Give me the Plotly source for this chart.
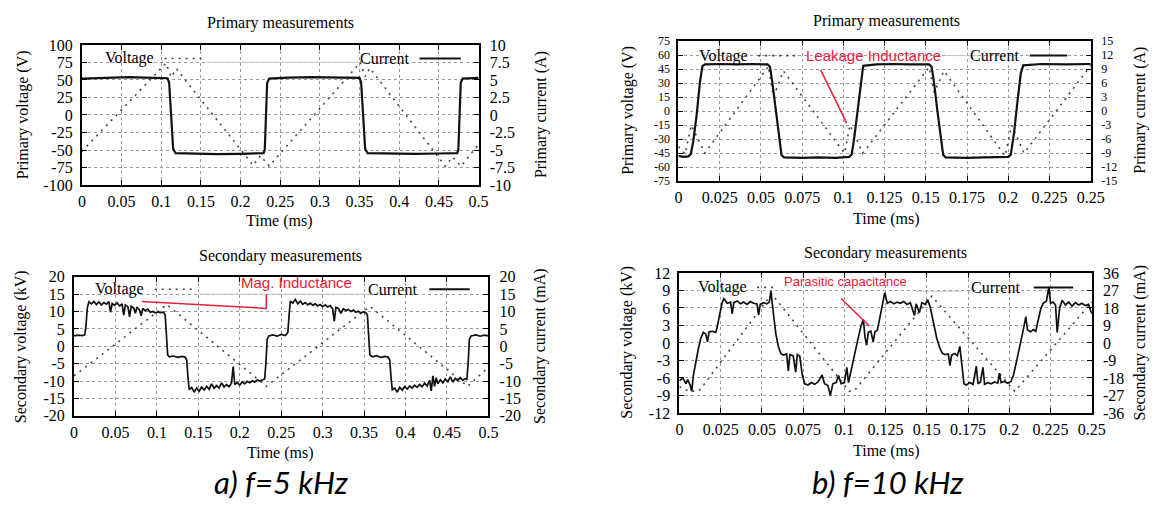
import plotly.graph_objects as go

# ---------------- DATA ----------------
# Panel a) primary, f = 5 kHz  (time in ms)
p1_volt_t = [0, 0.106, 0.1125, 0.119, 0.216, 0.225, 0.236, 0.351, 0.357, 0.363, 0.458, 0.467, 0.478, 0.5]
p1_volt_v = [-52, 74, 54, 66, -72, -58, -73, 75, 55, 67, -73, -60, -73, -42]
p1_curr_t = [0, 0.03, 0.06, 0.09, 0.108, 0.110, 0.1125, 0.115, 0.118, 0.14, 0.17, 0.2, 0.229, 0.2305, 0.232,
             0.2335, 0.236, 0.26, 0.29, 0.32, 0.350, 0.352, 0.3545, 0.357, 0.360, 0.39, 0.42, 0.45, 0.473,
             0.4745, 0.476, 0.4775, 0.480, 0.5]
p1_curr_a = [5.2, 5.35, 5.4, 5.3, 5.25, 4.6, -1.0, -4.8, -5.45, -5.55, -5.6, -5.55, -5.45, -5.0, 0.0,
             4.6, 5.2, 5.35, 5.4, 5.35, 5.3, 4.6, -1.0, -4.8, -5.45, -5.55, -5.55, -5.5, -5.45,
             -5.0, 0.0, 4.6, 5.2, 5.3]

# Panel b) primary, f = 10 kHz
p2_volt_t = [0, 0.004, 0.0078, 0.016, 0.0546, 0.0576, 0.0636, 0.1007, 0.104, 0.1118, 0.152, 0.155, 0.161,
             0.198, 0.202, 0.2095, 0.25]
p2_volt_v = [-38, -46, -15, -45, 48, 15, 43, -45, -15, -45, 47, 20, 43, -48, -15, -45, 49]
p2_curr_t = [0, 0.003, 0.006, 0.0075, 0.009, 0.011, 0.013, 0.0145, 0.016, 0.025, 0.035, 0.045, 0.054,
             0.0555, 0.057, 0.059, 0.061, 0.0625, 0.064, 0.075, 0.085, 0.095, 0.1035, 0.105, 0.1065,
             0.1085, 0.1105, 0.112, 0.12, 0.13, 0.14, 0.152, 0.1535, 0.155, 0.157, 0.159, 0.1605, 0.162,
             0.175, 0.185, 0.2, 0.2015, 0.2035, 0.2055, 0.2075, 0.209, 0.22, 0.235, 0.25]
p2_curr_a = [-9.6, -9.8, -9.7, -9.2, -6.5, -1.0, 6.0, 9.6, 10.0, 10.1, 10.0, 10.1, 10.0,
             9.5, 6.0, 0.0, -6.0, -9.4, -9.9, -10.0, -9.9, -10.0, -9.8, -9.3, -6.0,
             0.0, 6.5, 9.7, 10.0, 10.1, 10.0, 10.0, 9.5, 6.0, 0.0, -6.0, -9.4, -9.9,
             -10.0, -9.9, -9.8, -9.3, -4.5, 2.0, 8.0, 9.8, 10.1, 10.0, 10.1]

# Panel a) secondary, f = 5 kHz
p3_volt_t = [0, 0.112, 0.232, 0.357, 0.475, 0.5]
p3_volt_kv = [-8.5, 12.0, -11.5, 11.5, -11.5, -6.0]
p3_curr_t = [0, 0.005, 0.01, 0.013, 0.0145, 0.016, 0.018,
             0.021, 0.024, 0.027, 0.030, 0.033, 0.036, 0.039, 0.042, 0.044, 0.046, 0.049, 0.052, 0.055,
             0.058, 0.060, 0.062, 0.065, 0.067, 0.069, 0.072, 0.074, 0.076, 0.079, 0.081, 0.083, 0.086,
             0.089, 0.092, 0.095, 0.098, 0.101, 0.104, 0.108,
             0.110, 0.1115, 0.113, 0.115, 0.12, 0.125, 0.13, 0.134, 0.136, 0.1375, 0.139,
             0.142, 0.145, 0.148, 0.151, 0.154, 0.157, 0.160, 0.163, 0.166, 0.169, 0.172, 0.175, 0.178,
             0.181, 0.184, 0.187, 0.190, 0.192, 0.194, 0.197, 0.200, 0.203, 0.206, 0.209, 0.212, 0.215,
             0.218, 0.221, 0.224, 0.227, 0.230,
             0.2315, 0.233, 0.235, 0.24, 0.245, 0.25, 0.255, 0.258, 0.2595, 0.261,
             0.264, 0.267, 0.270, 0.273, 0.276, 0.279, 0.282, 0.285, 0.288, 0.291, 0.294, 0.297, 0.300,
             0.303, 0.306, 0.309, 0.312, 0.314, 0.316, 0.319, 0.322, 0.325, 0.328, 0.331, 0.334, 0.337,
             0.340, 0.343, 0.346, 0.349, 0.352,
             0.354, 0.3555, 0.357, 0.36, 0.365, 0.37, 0.375, 0.379, 0.381, 0.3825, 0.384,
             0.387, 0.390, 0.393, 0.396, 0.399, 0.402, 0.405, 0.408, 0.411, 0.414, 0.417, 0.420, 0.423,
             0.426, 0.429, 0.431, 0.433, 0.435, 0.437, 0.439, 0.442, 0.445, 0.448, 0.451, 0.454, 0.457,
             0.460, 0.463, 0.466, 0.469, 0.472, 0.474,
             0.4755, 0.477, 0.479, 0.485, 0.49, 0.495, 0.5]
p3_curr_ma = [3.0, 3.2, 3.1, 3.3, 6.0, 11.0, 12.8,
              12.2, 12.9, 12.0, 12.8, 11.9, 12.6, 12.1, 12.9, 9.8, 12.3, 11.8, 12.5, 11.6,
              12.2, 9.0, 11.9, 11.4, 8.5, 11.5, 11.0, 9.5, 11.3, 10.5, 8.8, 10.9, 10.2,
              10.7, 9.8, 10.0, 9.6, 9.9, 9.7, 9.8,
              9.0, 3.0, -2.5, -3.0, -2.8, -3.2, -2.9, -3.1, -4.0, -9.0, -12.5,
              -11.8, -13.2, -12.0, -12.9, -11.7, -12.6, -11.5, -12.4, -10.8, -12.1, -11.3, -12.0, -10.5,
              -11.7, -11.0, -11.6, -10.6, -5.8, -11.0, -10.4, -11.2, -10.2, -10.8, -10.1, -10.5, -9.9,
              -10.3, -9.7, -10.0, -9.6, -9.4,
              -5.0, 2.0, 3.0, 3.3, 2.9, 3.4, 3.1, 4.0, 9.0, 13.0,
              12.4, 13.5, 12.2, 13.0, 12.1, 12.6, 11.9, 12.4, 11.8, 12.2, 11.6, 12.0, 11.4,
              11.9, 11.3, 11.7, 10.8, 7.2, 11.2, 10.9, 9.5, 10.8, 10.3, 10.6, 10.0, 10.4,
              9.8, 10.1, 9.6, 9.9, 9.7,
              9.0, 3.0, -2.5, -3.0, -2.7, -3.2, -2.9, -3.1, -4.0, -9.0, -12.5,
              -12.0, -13.2, -11.8, -12.6, -11.6, -12.3, -11.4, -12.0, -11.2, -11.8, -11.0, -11.6, -10.6,
              -11.4, -9.8, -12.8, -8.5, -11.5, -9.0, -10.8, -9.6, -10.5, -9.4, -10.2, -8.8, -10.3,
              -9.2, -9.9, -9.0, -9.8, -9.3, -9.5,
              -5.0, 2.0, 3.0, 3.3, 2.9, 3.2, 3.0]

# Panel b) secondary, f = 10 kHz
p4_volt_t = [0, 0.006, 0.012, 0.056, 0.103, 0.106, 0.153, 0.2033, 0.25]
p4_volt_kv = [-7.5, -8.3, -8.2, 8.4, -8.3, -8.2, 8.0, -8.3, 7.0]
p4_curr_t = [0, 0.002, 0.004, 0.005, 0.0065, 0.0075, 0.0085, 0.010, 0.0115, 0.013,
             0.0145, 0.016, 0.017, 0.018, 0.020, 0.022, 0.023, 0.0245, 0.026, 0.027,
             0.029, 0.031, 0.032, 0.033, 0.035, 0.037, 0.039, 0.041, 0.043, 0.045,
             0.047, 0.048, 0.049, 0.051, 0.053, 0.0545, 0.0555, 0.057, 0.0585, 0.060,
             0.0615, 0.063, 0.065, 0.066, 0.067, 0.069, 0.0705, 0.0715, 0.073, 0.0745,
             0.076, 0.078, 0.080, 0.082, 0.084, 0.0865, 0.088, 0.090, 0.0915, 0.093,
             0.095, 0.0965, 0.098, 0.100, 0.1015, 0.1025, 0.1045, 0.1065, 0.1085, 0.110,
             0.1115, 0.1125, 0.1135, 0.1145, 0.116, 0.1175, 0.1185, 0.120, 0.1215, 0.123,
             0.1245, 0.126, 0.128, 0.130, 0.132, 0.134, 0.136, 0.138, 0.140, 0.1425,
             0.1435, 0.1455, 0.147, 0.149, 0.1505, 0.152, 0.153, 0.1545, 0.156, 0.158,
             0.1595, 0.161, 0.163, 0.164, 0.165, 0.167, 0.1685, 0.170, 0.1715, 0.1725,
             0.174, 0.176, 0.178, 0.180, 0.181, 0.1825, 0.184, 0.185, 0.187, 0.189,
             0.191, 0.193, 0.194, 0.195, 0.197, 0.199, 0.201, 0.2025, 0.2045, 0.2065,
             0.208, 0.209, 0.210, 0.211, 0.213, 0.2145, 0.216, 0.2175, 0.219, 0.2205,
             0.2225, 0.224, 0.225, 0.2265, 0.228, 0.229, 0.2305, 0.232, 0.234, 0.236,
             0.238, 0.240, 0.242, 0.244, 0.246, 0.248, 0.25]
p4_curr_ma = [-19.5, -18.0, -21.0, -18.9, -21.6, -24.9, -16.5, -9.0, -3.0, 2.4,
              5.4, 4.5, 0.6, 5.7, 6.0, 5.4, 8.4, 15.0, 21.0, 22.8,
              20.4, 21.0, 15.0, 20.7, 21.6, 20.1, 21.0, 19.8, 21.3, 20.4,
              20.1, 14.4, 19.8, 20.7, 20.1, 21.0, 26.7, 15.0, 4.5, -1.8,
              -5.4, -6.3, -5.7, -14.4, -6.0, -6.6, -15.0, -6.0, -6.9, -16.5,
              -21.0, -21.6, -20.4, -21.3, -20.1, -16.5, -21.0, -21.9, -27.0, -21.0,
              -20.4, -16.8, -21.0, -20.4, -12.6, -20.4, -12.0, -4.5, 3.0, 8.4,
              12.0, 3.0, -1.2, 5.4, 6.0, 0.6, 5.7, 6.6, 13.5, 20.4,
              25.8, 20.4, 21.3, 20.1, 21.0, 20.4, 21.3, 19.8, 20.7, 14.1,
              20.1, 15.6, 20.7, 19.8, 22.2, 18.6, 14.1, 7.5, 2.4, -3.0,
              -5.4, -6.0, -5.7, -11.7, -6.3, -5.4, -6.6, -1.8, -13.5, -21.0,
              -21.6, -20.4, -21.3, -12.0, -21.0, -20.1, -12.6, -21.3, -20.4, -21.0,
              -20.1, -20.7, -15.6, -20.4, -19.8, -20.7, -19.8, -16.5, -9.0, -1.5,
              5.4, 9.0, 13.5, 6.6, 5.7, 6.9, 6.0, 12.0, 17.4, 20.4,
              21.6, 28.8, 20.4, 21.0, 19.5, 5.4, 18.0, 21.9, 19.5, 21.0,
              18.9, 20.7, 19.5, 20.4, 19.2, 19.8, 15.0]

# Tick labels
x5_ticks = [0, 0.05, 0.1, 0.15, 0.2, 0.25, 0.3, 0.35, 0.4, 0.45, 0.5]
x5_labels = ["0", "0.05", "0.1", "0.15", "0.2", "0.25", "0.3", "0.35", "0.4", "0.45", "0.5"]
x10_ticks = [0, 0.025, 0.05, 0.075, 0.1, 0.125, 0.15, 0.175, 0.2, 0.225, 0.25]
x10_labels = ["0", "0.025", "0.05", "0.075", "0.1", "0.125", "0.15", "0.175", "0.2", "0.225", "0.25"]
p1_yl_ticks = [-100, -75, -50, -25, 0, 25, 50, 75, 100]
p1_yl_labels = ["-100", "-75", "-50", "-25", "0", "25", "50", "75", "100"]
p1_yr_ticks = [-10, -7.5, -5, -2.5, 0, 2.5, 5, 7.5, 10]
p1_yr_labels = ["-10", "-7.5", "-5", "-2.5", "0", "2.5", "5", "7.5", "10"]
p2_yl_ticks = [-75, -60, -45, -30, -15, 0, 15, 30, 45, 60, 75]
p2_yl_labels = ["-75", "-60", "-45", "-30", "-15", "0", "15", "30", "45", "60", "75"]
p2_yr_ticks = [-15, -12, -9, -6, -3, 0, 3, 6, 9, 12, 15]
p2_yr_labels = ["-15", "-12", "-9", "-6", "-3", "0", "3", "6", "9", "12", "15"]
p3_y_ticks = [-20, -15, -10, -5, 0, 5, 10, 15, 20]
p3_y_labels = ["-20", "-15", "-10", "-5", "0", "5", "10", "15", "20"]
p4_yl_ticks = [-12, -9, -6, -3, 0, 3, 6, 9, 12]
p4_yl_labels = ["-12", "-9", "-6", "-3", "0", "3", "6", "9", "12"]
p4_yr_ticks = [-36, -27, -18, -9, 0, 9, 18, 27, 36]
p4_yr_labels = ["-36", "-27", "-18", "-9", "0", "9", "18", "27", "36"]

for a, b in [(p1_volt_t, p1_volt_v), (p1_curr_t, p1_curr_a), (p2_volt_t, p2_volt_v), (p2_curr_t, p2_curr_a),
             (p3_volt_t, p3_volt_kv), (p3_curr_t, p3_curr_ma), (p4_volt_t, p4_volt_kv), (p4_curr_t, p4_curr_ma)]:
    assert len(a) == len(b), (len(a), len(b))

# ---------------- LAYOUT ----------------
# The page body keeps its default 8px margin, so the figure is drawn 8px in from the
# window's top-left corner; all positions below are given in window pixels.
OFF = 8
W, H = 1150, 497
def fx(p): return (p - OFF) / W
def fy(p): return 1 - (p - OFF) / H

SERIF = "Liberation Serif"
FS = 16
TXT = dict(family=SERIF, size=FS, color="black")
DOT = dict(color="#444", width=1.6, dash="2px,5px")

panels = [
    dict(box=(79, 482, 38, 183), xr=[0, 0.5], xt=x5_ticks, xl=x5_labels, yfs=FS,
         yl=([-100, 100], p1_yl_ticks, p1_yl_labels), yr=([-10, 10], p1_yr_ticks, p1_yr_labels),
         vt=p1_volt_t, vv=p1_volt_v, ct=p1_curr_t, cv=p1_curr_a, cw=2.2),
    dict(box=(685, 1104, 34, 179), xr=[0, 0.25], xt=x10_ticks, xl=x10_labels, yfs=12,
         yl=([-75, 75], p2_yl_ticks, p2_yl_labels), yr=([-15, 15], p2_yr_ticks, p2_yr_labels),
         vt=p2_volt_t, vv=p2_volt_v, ct=p2_curr_t, cv=p2_curr_a, cw=2.2),
    dict(box=(71, 492, 278, 422), xr=[0, 0.5], xt=x5_ticks, xl=x5_labels, yfs=FS,
         yl=([-20, 20], p3_y_ticks, p3_y_labels), yr=([-20, 20], p3_y_ticks, p3_y_labels),
         vt=p3_volt_t, vv=p3_volt_kv, ct=p3_curr_t, cv=p3_curr_ma, cw=1.7),
    dict(box=(686, 1105, 274, 419), xr=[0, 0.25], xt=x10_ticks, xl=x10_labels, yfs=FS,
         yl=([-12, 12], p4_yl_ticks, p4_yl_labels), yr=([-36, 36], p4_yr_ticks, p4_yr_labels),
         vt=p4_volt_t, vv=p4_volt_kv, ct=p4_curr_t, cv=p4_curr_ma, cw=1.7),
]

def xn(k): return "x" if k == 1 else f"x{k}"
def yn(n): return "y" if n == 1 else f"y{n}"
def ln(name): return name[0] + "axis" + name[1:]

fig = go.Figure()
layout = dict(width=W, height=H, autosize=False, margin=dict(l=0, r=0, t=0, b=0),
              paper_bgcolor="white", plot_bgcolor="white", showlegend=False)

common = dict(showline=True, linecolor="black", linewidth=2, ticks="inside", ticklen=5, tickwidth=1.2,
              tickcolor="black", zeroline=False, fixedrange=True)

for k, p in enumerate(panels, start=1):
    x0, x1, y0, y1 = p["box"]
    xa, yl, yr = xn(k), yn(2 * k - 1), yn(2 * k)
    yfont = dict(family=SERIF, size=p["yfs"], color="black")
    layout[ln(xa)] = dict(common, domain=[fx(x0), fx(x1)], anchor=yl, range=p["xr"], tickmode="array",
                          tickvals=p["xt"], ticktext=p["xl"], showgrid=True, gridcolor="#9a9a9a",
                          griddash="dot", gridwidth=1, mirror="ticks", ticklabelstandoff=1, tickfont=TXT)
    layout[ln(yl)] = dict(common, domain=[fy(y1), fy(y0)], anchor=xa, range=p["yl"][0], tickmode="array",
                          tickvals=p["yl"][1], ticktext=p["yl"][2], showgrid=True, gridcolor="#9a9a9a",
                          griddash="dot", gridwidth=1, mirror=True, ticklabelstandoff=4, tickfont=yfont)
    layout[ln(yr)] = dict(common, domain=[fy(y1), fy(y0)], anchor=xa, overlaying=yl, side="right",
                          range=p["yr"][0], tickmode="array", tickvals=p["yr"][1], ticktext=p["yr"][2],
                          showgrid=False, ticklabelstandoff=6, tickfont=yfont)
    fig.add_trace(go.Scatter(x=p["vt"], y=p["vv"], mode="lines", line=DOT, xaxis=xa, yaxis=yl,
                             name="Voltage"))
    fig.add_trace(go.Scatter(x=p["ct"], y=p["cv"], mode="lines", line=dict(color="#111", width=p["cw"]),
                             xaxis=xa, yaxis=yr, name="Current"))

fig.update_layout(**layout)

ann = []
def text(x, y, s, size=FS, family=SERIF, color="black", angle=0, xanchor="center", italic=False):
    ann.append(dict(x=fx(x), y=fy(y), xref="paper", yref="paper", text=s, showarrow=False,
                    xanchor=xanchor, yanchor="middle", textangle=angle,
                    font=dict(family=family, size=size, color=color,
                              style="italic" if italic else "normal")))

# titles
text(281, 15, "Primary measurements")
text(896, 13, "Primary measurements")
text(281, 256, "Secondary measurements")
text(895, 253, "Secondary measurements")
for (x, y) in [(280, 220), (896, 218), (281, 460), (896, 458)]:
    text(x, y, "Time (ms)")
text(19, 110, "Primary voltage (V)", angle=-90)
text(545, 110, "Primary current (A)", angle=-90)
text(633, 106, "Primary voltage (V)", angle=-90)
text(1154, 106, "Primary current (A)", angle=-90)
text(17, 350, "Secondary voltage (kV)", angle=-90)
text(545, 350, "Secondary current (mA)", angle=-90)
text(633, 346, "Secondary voltage (kV)", angle=-90)
text(1154, 346, "Secondary current (mA)", angle=-90)

# legends (gnuplot style: text then sample)
shapes = []
def seg(xa, ya, xb, yb, line):
    shapes.append(dict(type="line", xref="paper", yref="paper", x0=fx(xa), y0=fy(ya), x1=fx(xb), y1=fy(yb),
                       line=line, layer="above"))

legend_pos = [  # (voltage text right, y, dotted x0,x1, current text right, solid x0,x1, grey x0,x1, grey y)
    (154, 52, 163, 203, 413, 422, 464, 205, 362, 56),
    (758, 49, 766, 806, 1033, 1042, 1080, 956, 990, 49),
    (144, 291, 153, 195, 421, 432, 473, 197, 372, 296),
    (757, 289, 765, 786, 1034, 1046, 1086, 926, 972, 293),
]
for (vx, y, d0, d1, cx, s0, s1, g0, g1, gy) in legend_pos:
    seg(g0, gy, g1, gy, dict(color="#c8c8c8", width=1))
    text(vx, y, "Voltage", xanchor="right")
    text(cx, y, "Current", xanchor="right")
    seg(d0, y, d1, y, DOT)
    seg(s0, y, s1, y, dict(color="#111", width=2))

# red annotations
RED = "#e8203c"
text(883, 49, "Leakage Inductance", size=15, family="Liberation Sans", color=RED)
shapes.append(dict(type="line", xref="x2", yref="y3", x0=0.0863, y0=44, x1=0.102, y1=-12.8,
                   line=dict(color=RED, width=1.5)))
text(297, 284, "Mag. Inductance", size=15, family="Liberation Sans", color=RED)
shapes.append(dict(type="path", xref="x3", yref="y5", path="M 0.0818 12.9 L 0.232 10.9 L 0.232 15.0",
                   line=dict(color=RED, width=1.5)))
text(855, 283, "Parasitic capacitance", size=13, family="Liberation Sans", color=RED)
shapes.append(dict(type="line", xref="x4", yref="y7", x0=0.098, y0=7.6, x1=0.1151, y1=2.9,
                   line=dict(color=RED, width=1.5)))

# captions
text(281, 491, "a) f=5 kHz", size=31, family="Lato", italic=True)
text(897, 491, "b) f=10 kHz", size=31, family="Lato", italic=True)

fig.update_layout(annotations=ann, shapes=shapes)
fig.write_html("out.html")
